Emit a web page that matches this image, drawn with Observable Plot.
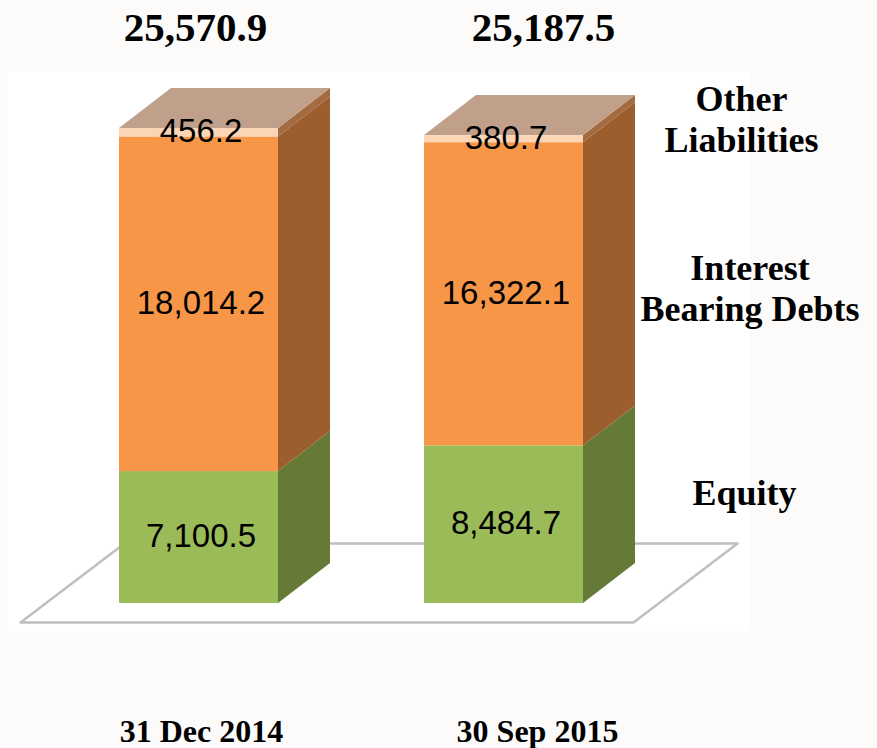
<!DOCTYPE html>
<html>
<head>
<meta charset="utf-8">
<script src="https://cdn.jsdelivr.net/npm/d3@7"></script>
<script src="https://cdn.jsdelivr.net/npm/@observablehq/plot@0.6"></script>
<style>
  html, body { margin: 0; padding: 0; background: #fcfbfa; }
  #chart svg { display: block; }
</style>
</head>
<body>
<div id="chart"></div>
<script>
// ---------- data ----------
const categories = ["31 Dec 2014", "30 Sep 2015"];
const series = ["Equity", "Interest Bearing Debts", "Other Liabilities"];
const seriesLabels = ["Equity", "Interest\nBearing Debts", "Other\nLiabilities"];
const equity = [7100.5, 8484.7];
const debts = [18014.2, 16322.1];
const otherLiabilities = [456.2, 380.7];
const totals = [25570.9, 25187.5];

// ---------- styling ----------
const frontColors = ["#9bbb59", "#f79646", "#fcd5b5"];
const sideColors = ["#667a38", "#9c5e2c", "#a46a40"];
const topColor = "#c0a08a";

// ---------- layout (pixels) ----------
const W = 877, H = 748;
const firstCenterPx = 198.5, stepPx = 305;       // category centres
const basePx = 603, pxPerValue = 475 / 25570.9;  // value axis
const barWidth = 159 / stepPx;
const depthX = 52 / stepPx;
const depthY = 40 / pxPerValue;
const px2x = p => (p - firstCenterPx) / stepPx;
const px2y = p => (basePx - p) / pxPerValue;

const stacks = [equity, debts, otherLiabilities];
const segments = [];
categories.forEach((c, i) => {
  let y0 = 0;
  series.forEach((s, j) => {
    const v = stacks[j][i];
    segments.push({i, j, y0, y1: y0 + v, v});
    y0 += v;
  });
});

const sidePts = segments.flatMap(s => [
  {id: s.i + "-" + s.j, j: s.j, x: s.i + barWidth / 2, y1: s.y0, y2: s.y1},
  {id: s.i + "-" + s.j, j: s.j, x: s.i + barWidth / 2 + depthX, y1: s.y0 + depthY, y2: s.y1 + depthY}
]);
const topPts = categories.flatMap((c, i) => {
  const top = d3.sum(stacks, st => st[i]);
  return [
    {id: i, y: top, x1: i - barWidth / 2, x2: i + barWidth / 2},
    {id: i, y: top + depthY, x1: i - barWidth / 2 + depthX, x2: i + barWidth / 2 + depthX}
  ];
});
const floorPts = [[20, 622], [633, 622], [737, 543], [124, 543], [20, 622]]
  .map(([px, py]) => ({x: px2x(px), y: px2y(py)}));

const fmt = d3.format(",.1f");
const headerDx = [-3.5, 39.5];
const catDx = [2.5, 33.5];
const legendPos = [[744, 491.5], [749.5, 287], [741, 118]];

const marks = [
  Plot.line(floorPts, {x: "x", y: "y", stroke: "#bfbfbf", strokeWidth: 2.5}),
  Plot.areaY(sidePts, {x: "x", y1: "y1", y2: "y2", z: "id", fill: d => sideColors[d.j]}),
  Plot.areaX(topPts, {y: "y", x1: "x1", x2: "x2", z: "id", fill: topColor}),
  Plot.rect(segments, {x1: s => s.i - barWidth / 2, x2: s => s.i + barWidth / 2, y1: "y0", y2: "y1",
    fill: s => frontColors[s.j]}),
  Plot.text(segments, {x: "i", y: s => (s.y0 + s.y1) / 2, text: s => fmt(s.v), dx: 2, dy: -1,
    lineAnchor: "middle",
    fontFamily: "Liberation Sans, Arial, sans-serif", fontSize: 33, fill: "#000"}),
  ...totals.map((t, i) => Plot.text([t], {x: () => i, frameAnchor: "top", lineAnchor: "middle",
    dy: 27, dx: headerDx[i],
    text: d => fmt(d), fontFamily: "Liberation Serif, Times New Roman, serif", fontSize: 41,
    fontWeight: "bold", fill: "#000"})),
  ...categories.map((c, i) => Plot.text([c], {x: () => i, frameAnchor: "bottom", lineAnchor: "middle",
    dy: -17, dx: catDx[i],
    text: d => d, fontFamily: "Liberation Serif, Times New Roman, serif", fontSize: 32,
    fontWeight: "bold", fill: "#000"})),
  ...seriesLabels.map((s, j) => Plot.text([s], {frameAnchor: "top-left", lineAnchor: "middle",
    dx: legendPos[j][0], dy: legendPos[j][1],
    text: d => d, textAnchor: "middle", lineHeight: 41 / 36,
    fontFamily: "Liberation Serif, Times New Roman, serif", fontSize: 36, fontWeight: "bold", fill: "#000"}))
];

const chart = Plot.plot({
  width: W, height: H,
  marginTop: 0, marginRight: 0, marginBottom: 0, marginLeft: 0,
  x: {type: "linear", domain: [px2x(0), px2x(W)], axis: null},
  y: {type: "linear", domain: [px2y(H), px2y(0)], axis: null},
  color: {type: "identity"},
  style: {background: "#fcfbfa", overflow: "visible"},
  marks
});

// white plotting panel behind the chart
d3.select(chart).insert("rect", ":first-child")
  .attr("x", 8).attr("y", 72).attr("width", 741).attr("height", 559).attr("fill", "#ffffff");

document.getElementById("chart").appendChild(chart);
</script>
</body>
</html>
